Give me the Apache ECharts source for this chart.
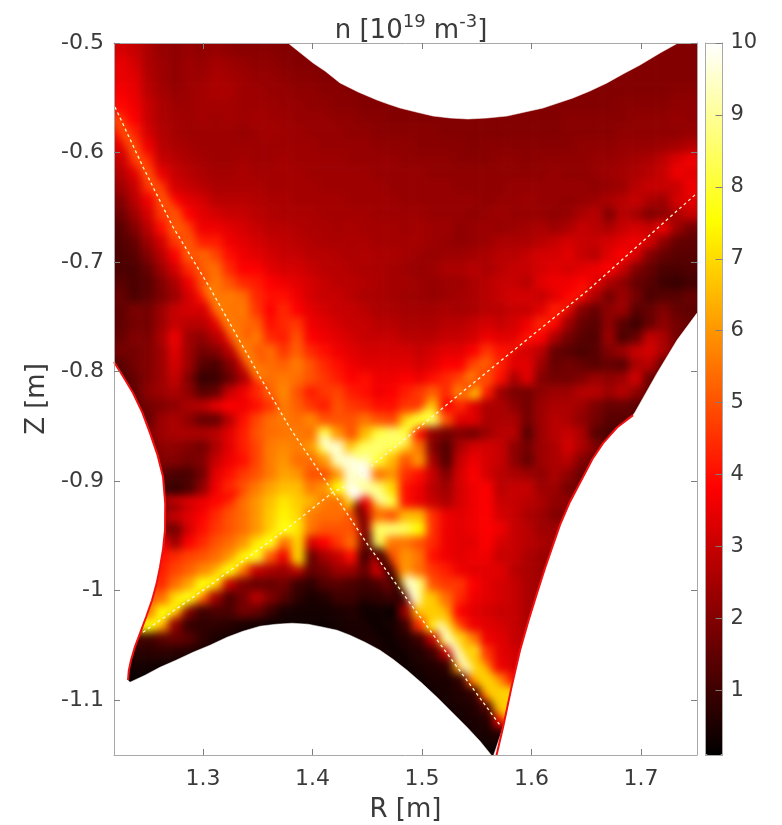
<!DOCTYPE html>
<html><head><meta charset="utf-8">
<style>
html,body{margin:0;padding:0;background:#fff;width:782px;height:825px;overflow:hidden}
#clip{position:absolute;left:114px;top:43px;width:583px;height:712px;overflow:hidden}
#heat{position:absolute;left:-114px;top:-43px;width:782px;height:825px;filter:blur(4.2px)}
#front{position:absolute;left:0;top:0;width:782px;height:825px}
</style>
<script src="https://cdn.jsdelivr.net/npm/echarts@6/dist/echarts.min.js"></script>
</head><body>
<div id="clip"><div id="heat"></div></div>
<div id="front"></div>
<script>
const rLimits=[1.2187,1.7511];
const zLimits=[-1.15,-0.5];
const rTicks=[1.3,1.4,1.5,1.6,1.7];
const zTicks=[-1.1,-1,-0.9,-0.8,-0.7,-0.6,-0.5];
const colorTicks=[1,2,3,4,5,6,7,8,9,10];
const colorLimits=[0.1,10];
const hotColors=['#000000','#550000','#aa0000','#ff0000','#ff5500','#ffaa00','#ffff00','#ffff80','#ffffff'];

const leftWall=[[1.2187,-0.7913],[1.2275,-0.8052],[1.2361,-0.8196],[1.2445,-0.8372],[1.2516,-0.8562],[1.2585,-0.8763],[1.2635,-0.8963],[1.2655,-0.9205],[1.2653,-0.9447],[1.2635,-0.9620],[1.2607,-0.9785],[1.2575,-0.9940],[1.2534,-1.0087],[1.2480,-1.0240],[1.2425,-1.0388],[1.2378,-1.0512],[1.2342,-1.0635],[1.2322,-1.0730],[1.2315,-1.0817]];
const rightWall=[[1.5676,-1.152],[1.5740,-1.1247],[1.5815,-1.0890],[1.5895,-1.0543],[1.5970,-1.0280],[1.6050,-1.0023],[1.6123,-0.9795],[1.6187,-0.9610],[1.6260,-0.9400],[1.6350,-0.9190],[1.6470,-0.8963],[1.6555,-0.8800],[1.6653,-0.8653],[1.6780,-0.8510],[1.6927,-0.8397]];
const rightEdge=[[1.6945,-0.8370],[1.7146,-0.8014],[1.7329,-0.7712],[1.7511,-0.7466]];
const bottomArc=[[1.2333,-1.0836],[1.247,-1.0772],[1.2607,-1.0699],[1.2753,-1.0635],[1.2909,-1.0562],[1.3064,-1.0498],[1.3219,-1.0425],[1.3365,-1.037],[1.3521,-1.0324],[1.3667,-1.0306],[1.3813,-1.0297],[1.3959,-1.0306],[1.4096,-1.0333],[1.4224,-1.0361],[1.4342,-1.0406],[1.4479,-1.047],[1.4616,-1.0543],[1.4735,-1.0626],[1.4863,-1.0726],[1.5,-1.0845],[1.5137,-1.0973],[1.5274,-1.111],[1.5411,-1.1247],[1.5530,-1.1374],[1.5648,-1.152]];
const topArc=[[1.3776,-0.5],[1.4005,-0.5183],[1.4114,-0.5256],[1.4251,-0.5365],[1.4416,-0.5447],[1.4589,-0.5521],[1.4689,-0.5557],[1.4799,-0.5594],[1.4945,-0.563],[1.5100,-0.5667],[1.5256,-0.5685],[1.5420,-0.5694],[1.5594,-0.5685],[1.5776,-0.5667],[1.5941,-0.563],[1.6105,-0.5594],[1.6242,-0.5548],[1.6379,-0.5502],[1.6534,-0.5438],[1.6689,-0.5365],[1.6836,-0.5283],[1.6991,-0.5201],[1.7174,-0.5091],[1.7338,-0.5]];
const separatrixA=[[1.2196,-0.5584],[1.2452,-0.6132],[1.2726,-0.668],[1.3064,-0.7237],[1.3521,-0.805],[1.3795,-0.8516],[1.4187,-0.91],[1.4434,-0.9475],[1.4507,-0.9584],[1.4890,-1.0114],[1.5712,-1.1228]];
const separatrixB=[[1.2452,-1.0379],[1.3064,-0.9950],[1.3749,-0.9447],[1.4187,-0.91],[1.4315,-0.9037],[1.4909,-0.8562],[1.5411,-0.8151],[1.6516,-0.7256],[1.7511,-0.637]];

const ridgeValues=[0.3,0.8,1.5,3.8,5,5.6,7.6,7,6.8,4.8,4.2,8.5,8,8.5,9.5,9.5,10,9,9.5];
const ridgeWidths=[12,10,8,6,10,15,9,9,18,8,6,14,12,10,12,9,20,12,12];
const ridgePaths=[
 [[1.4470,-1.0146],[1.5247,-1.1224]],
 [[1.4543,-0.9539],[1.4726,-0.9858],[1.4826,-1.0087]],
 [[1.4406,-0.9219],[1.4525,-0.9603]],
 [[1.2671,-0.9169],[1.3128,-0.9196],[1.3311,-0.9105]],
 [[1.2214,-0.5703],[1.2470,-0.6160],[1.2835,-0.6707],[1.3064,-0.7255]],
 [[1.3064,-0.7255],[1.3521,-0.8032]],
 [[1.2489,-1.0342],[1.3064,-0.9932],[1.3749,-0.9429]],
 [[1.3886,-0.9447],[1.3886,-0.9739]],
 [[1.5027,-1.0087],[1.5804,-1.1110]],
 [[1.5393,-0.8187],[1.5685,-0.7895]],
 [[1.5685,-0.7895],[1.6233,-0.7484],[1.6507,-0.7210]],
 [[1.4416,-0.8735],[1.4616,-0.8644],[1.4826,-0.8626]],
 [[1.4890,-0.8489],[1.5055,-0.8379]],
 [[1.4589,-0.9566],[1.4607,-0.9420],[1.4863,-0.9420]],
 [[1.4881,-0.9904],[1.4945,-1.0087]],
 [[1.5164,-1.0315],[1.5274,-1.0479],[1.5420,-1.0726]],
 [[1.4370,-0.8899],[1.4388,-0.9082]],
 [[1.4370,-0.8963],[1.4644,-0.9174]],
 [[1.4105,-0.8626],[1.4270,-0.8808],[1.4406,-0.8963]]
];

const row00=[3.2,3.0,2.6,2.3,2.2,2.3,2.2,2.3,2.2,2.1,2.1,2.1,2.0,2,2,2,2,2,2,2,2,2,2,2,2,2,2,2,2,2,2,2,2,2,2,2,2,2,2,2,2,2,2];
const row01=[3.5,3.2,2.6,2.4,2.2,2.4,2.3,2.5,2.4,2.3,2.2,2.2,2.1,2,2,2,2,2,2,2,2,2,2,2,2,2,2,2,2,2,2,2,2,2,2,2,2,2,2,2,2,2,2];
const row02=[3.5,3.4,2.7,2.4,2.2,2.4,2.4,2.6,2.5,2.4,2.3,2.3,2.2,2.1,2.1,2,2,2,2,2,2,2,2,2,2,2,2,2,2,2,2,2,2,2,2,2,2,2,2,2,2,2,2];
const row03=[3.7,3.5,2.8,2.5,2.3,2.4,2.5,2.6,2.6,2.4,2.4,2.3,2.3,2.2,2.2,2.1,2.1,2,2,2,2,2,2,2,2,2,2,2,2,2,2,2,2,2,2,2,2,2,2,2,2,2.1,2.1];
const row04=[3.9,3.6,3.0,2.6,2.4,2.4,2.5,2.5,2.5,2.4,2.4,2.4,2.3,2.3,2.2,2.2,2.1,2.1,2,2,2,2,2,2,2,2,2,2,2,2,2,2,2,2,2,2,2,2.1,2.1,2.1,2.1,2.2,2.2];
const row05=[4.2,3.8,3.0,2.6,2.5,2.4,2.5,2.4,2.5,2.4,2.5,2.4,2.4,2.3,2.3,2.3,2.2,2.2,2.1,2.1,2,2,2,2,2,2,2,2,2,2,2,2,2,2.1,2.1,2.1,2.1,2.1,2.2,2.2,2.2,2.3,2.2];
const row06=[3.8,4.2,3.2,2.7,2.5,2.4,2.4,2.4,2.4,2.3,2.4,2.5,2.4,2.4,2.3,2.3,2.3,2.2,2.2,2.1,2.1,2.1,2.1,2.1,2,2,2,2,2,2,2,2,2,2.1,2.1,2.1,2.1,2.2,2.2,2.2,2.2,2.2,2.3];
const row07=[3.4,4.5,3.6,2.8,2.6,2.5,2.4,2.4,2.4,2.4,2.4,2.4,2.4,2.4,2.4,2.3,2.3,2.3,2.3,2.2,2.2,2.2,2.1,2.1,2.1,2.1,2,2.1,2.1,2.1,2.1,2.1,2.1,2.1,2.2,2.2,2.2,2.3,2.3,2.3,2.4,2.5,2.7];
const row08=[3.0,4.2,4.2,3.0,2.8,2.6,2.5,2.4,2.4,2.5,2.4,2.4,2.5,2.4,2.4,2.4,2.4,2.3,2.3,2.3,2.3,2.2,2.2,2.2,2.2,2.1,2.1,2.1,2.2,2.2,2.1,2.2,2.2,2.2,2.2,2.3,2.3,2.4,2.5,2.6,2.9,3.3,3.6];
const row09=[2.7,3.4,4.6,3.5,3.0,2.8,2.6,2.5,2.5,2.6,2.5,2.5,2.5,2.5,2.4,2.4,2.4,2.4,2.4,2.3,2.3,2.3,2.3,2.2,2.2,2.2,2.2,2.2,2.2,2.2,2.2,2.2,2.3,2.2,2.2,2.3,2.4,2.5,2.6,2.8,3.0,3.6,3.4];
const row10=[2.4,3.0,4.4,4.2,3.2,3.0,2.8,2.6,2.6,2.6,2.6,2.5,2.5,2.5,2.5,2.4,2.4,2.4,2.4,2.4,2.3,2.3,2.3,2.3,2.3,2.2,2.2,2.2,2.2,2.3,2.3,2.3,2.3,2.3,2.3,2.2,2.3,2.4,2.8,3.0,3.0,3.0,3.6];
const row11=[2.0,2.8,3.6,4.8,3.8,3.4,3.2,2.8,2.8,2.8,2.7,2.6,2.6,2.5,2.5,2.5,2.5,2.4,2.4,2.4,2.4,2.3,2.3,2.3,2.3,2.3,2.3,2.2,2.3,2.3,2.4,2.3,2.3,2.2,2.3,2.4,2.6,2.8,3.0,2.6,2.4,3.2,3.4];
const row12=[1.7,2.4,3.2,4.6,5.0,3.8,3.4,3.2,3.0,3.0,2.8,2.7,2.6,2.6,2.6,2.5,2.5,2.5,2.5,2.4,2.4,2.4,2.4,2.3,2.3,2.3,2.2,2.3,2.4,2.3,2.3,2.3,2.2,2.3,2.6,2.8,2.0,2.8,2.5,2.0,2.2,2.6,3.0];
const row13=[1.4,2.0,2.8,4.0,5.2,4.4,3.6,3.6,3.4,3.2,3.0,2.8,2.8,2.7,2.6,2.6,2.5,2.6,2.5,2.5,2.5,2.4,2.5,2.4,2.4,2.2,2.3,2.4,2.3,2.4,2.5,2.6,2.4,2.6,3.0,2.8,2.6,3.0,3.2,3.0,3.6,2.4,1.8];
const row14=[1.3,1.6,2.4,3.2,4.6,5.4,4.2,4.2,3.6,3.4,3.2,3.0,2.9,2.8,2.7,2.6,2.6,2.6,2.6,2.5,2.5,2.5,2.5,2.4,2.3,2.2,2.3,2.4,2.6,2.6,2.6,2.8,3.0,3.2,3.0,3.0,3.2,3.4,3.6,3.2,2.2,1.6,1.5];
const row15=[1.2,1.4,2.0,2.8,3.8,5.2,5.4,4.8,4.0,3.6,3.4,3.2,3.0,3.0,2.8,2.8,2.7,2.6,2.7,2.6,2.6,2.5,2.4,2.3,2.4,2.4,2.5,2.6,2.8,2.8,3.0,3.2,3.2,3.4,3.0,2.8,3.4,3.8,3.2,2.0,1.6,1.4,1.4];
const row16=[1.2,1.2,1.6,2.4,3.2,4.4,5.6,5.4,4.4,3.8,3.8,3.4,3.2,3.2,3.0,2.8,2.8,2.7,2.6,2.6,2.5,2.4,2.3,2.4,2.6,2.6,2.8,2.6,2.8,3.0,3.0,3.2,3.4,3.2,3.4,3.6,3.8,3.0,2.0,1.6,1.2,1.2,1.3];
const row17=[1.4,1.2,1.4,2.0,2.6,3.6,4.8,5.6,5.0,4.4,4.2,3.8,3.6,3.4,3.2,3.0,2.8,2.8,2.7,2.6,2.5,2.5,2.4,2.3,2.4,2.4,2.6,2.8,3.0,3.0,2.8,3.4,3.6,3.6,3.8,3.4,2.6,2.2,1.6,1.4,1.0,0.9,1.1];
const row18=[1.6,1.2,1.5,1.9,2.4,3.2,4.0,5.0,5.6,5.4,4.4,4.0,4.0,3.6,3.2,3.0,3.0,2.8,2.6,2.6,2.5,2.4,2.4,2.3,2.4,2.5,2.6,2.8,3.0,3.2,3.2,3.0,3.4,3.8,3.4,2.6,1.8,2.4,1.8,1.2,1.4,1.4,1.6];
const row19=[1.5,1.9,1.8,2.4,3.0,3.2,3.2,4.2,5.4,5.6,4.6,3.8,4.4,3.8,3.4,3.2,3.0,3.0,2.8,2.6,2.6,2.5,2.5,2.5,2.6,2.5,2.6,2.8,2.8,3.0,3.0,3.4,4.2,3.2,2.0,1.6,2.2,2.4,1.4,1.6,2.0,1.6,1.5];
const row20=[1.5,1.8,1.8,2.4,3.0,2.8,2.8,3.4,4.4,5.4,5.2,4.0,4.4,4.6,3.6,3.4,3.2,3.0,3.0,2.8,2.8,2.6,2.6,2.6,2.8,2.8,3.0,3.2,3.0,3.2,3.6,4.4,3.8,2.4,1.6,1.4,2.2,1.4,1.0,1.6,2.2,1.8,1.6];
const row21=[1.6,2.0,1.9,2.6,3.6,2.4,2.2,2.8,3.4,4.6,5.6,4.4,4.2,5.0,3.8,3.6,3.4,3.2,3.0,3.0,3.0,2.8,2.8,2.8,3.0,3.0,3.2,3.6,3.4,3.4,3.8,3.8,2.6,1.8,1.4,1.3,2.4,1.2,1.6,3.0,2.6,1.8,1.6];
const row22=[1.8,1.8,2.0,2.4,3.4,2.4,1.8,2.0,2.8,3.6,5.0,5.4,4.6,5.2,4.4,4.0,3.6,3.4,3.2,3.2,3.2,3.2,3.0,3.2,3.4,3.4,3.8,4.6,4.0,3.2,3.2,2.8,1.6,1.4,1.2,1.4,2.0,2.4,3.0,3.2,2.6,1.8,1.6];
const row23=[1.4,1.8,2.0,2.4,3.2,2.4,1.4,1.2,2.0,3.0,4.0,5.4,5.2,5.6,5.0,4.4,4.0,3.6,3.4,3.4,3.4,3.4,3.2,3.4,3.8,3.8,4.8,5.4,4.2,3.4,3.4,2.4,1.6,1.8,1.6,1.4,1.6,1.4,2.6,2.8,1.6,1.6,1.6];
const row24=[1.2,1.6,2.0,2.4,3.0,2.0,0.9,1.0,1.6,2.6,3.8,5.4,5.6,5.4,5.0,4.6,4.2,3.8,4.0,3.6,3.6,3.8,3.6,4.0,4.4,4.8,6.0,5.0,4.0,2.6,3.4,2.0,1.8,1.8,2.0,2.4,2.2,2.4,3.2,1.6,1.6,1.6,1.6];
const row25=[1.2,1.5,2.2,2.4,2.6,2.2,1.4,1.6,3.0,3.6,4.4,5.2,5.8,5.0,4.2,4.6,4.8,4.2,4.0,3.6,3.8,4.2,4.6,5.2,4.4,5.8,7.0,4.2,2.4,1.9,1.8,2.2,2.4,2.4,2.8,2.8,2.4,2.8,2.2,1.6,1.6,1.6,1.6];
const row26=[1.2,1.4,1.8,2.0,2.2,2.6,2.8,3.4,3.8,3.6,4.0,4.6,5.6,5.2,4.6,4.2,5.0,4.6,4.4,4.0,4.0,4.6,4.6,6.5,3.8,4.4,3.4,2.6,2.6,2.2,1.8,2.4,2.6,2.6,2.4,1.9,1.6,1.6,1.4,1.6,1.6,1.6,1.6];
const row27=[1.6,1.6,1.6,2.4,2.6,2.2,1.6,1.6,2.8,4.0,4.8,5.4,5.6,5.4,5.8,5.0,5.0,5.0,5.5,5.0,4.8,6.5,7.5,8.5,5.0,3.4,3.4,2.6,2.6,2.6,1.8,2.4,2.8,2.6,2.2,1.8,1.4,1.4];
const row28=[1.6,1.6,2.0,2.4,2.6,2.6,2.6,2.8,3.4,4.2,5.0,5.4,5.5,5.6,5.4,8,6,5,6.5,8,8.5,8,4,2.2,1.8,2,1.8,2.4,2.8,2.8,1.4,2.4,2.8,3,2.6,1.4,1.2];
const row29=[1.6,1.6,1.6,2.2,2.2,2.0,1.8,2.6,3.4,4.2,4.8,5.6,5.8,5.6,6,8,9.5,6.5,7.5,9,8,6.5,5.5,2,1.3,2.6,3.2,3.2,3,2.2,1.8,2.4,2.6,3.2,2.6,2,1.4];
const row30=[1.6,1.6,1.6,2.0,2.0,1.8,2.0,3.0,3.6,4.0,4.8,5.6,6,5.4,5.4,6,9,10,9.5,8,6.5,5,6,2.5,1.3,3,3.6,3.2,3,2.2,1.6,2.4,2.6,2.8,2,1.6];
const row31=[1.4,1.4,1.4,1.4,1.2,1.2,1.8,3.4,4.0,4.6,5,5.6,6.2,6,5,5,6,10,10,5.5,6,4.5,4,3,2,3.2,3.8,3.2,2.8,2.6,2.4,2.2,2.6,2.2,1.6];
const row32=[1,1,1,1.0,0.9,1.2,2.2,3.6,4.4,5,5.6,6.2,6.6,6.6,5.6,6,7.5,9,10,8.5,7,4,3.6,2.8,2.4,3.2,3.6,3.8,2.8,3,3,2.4,2.4,1.8];
const row33=[1.4,1.4,1.4,1.6,1.6,2.6,3.2,4,4.6,5.4,6,6.6,7.2,6.8,6.4,5.6,5.4,7,3.6,6,8,4,3.5,3,2.6,3.2,3.6,3.8,3,3,2.8,2.6,2.2];
const row34=[2,2,2,2.4,3,3.4,3.8,4.4,5,5.4,6,6.8,7.4,7,5.6,5.4,5.4,5,3,5.5,5,6.5,6.5,4.5,3.6,3.4,3.6,3.8,3.2,3,2.6,2.4,2];
const row35=[2,2,2,2,1.8,3.2,4,4.6,5,5.4,6,6.8,8,7.4,5.5,5,5,5,3.4,8,9,8,7.5,4.5,3.6,3.4,3.6,3.8,3.6,3,2.8,2.4];
const row36=[3.6,3.6,3.6,3.6,2.4,3.8,4.4,5,5.4,6.0,7,8,5.4,6.5,3.2,3.8,4.6,5.4,2,8,5.5,5.5,5,4.4,3.6,3.4,3.4,3.8,3.2,3,2.8,2.6,2.4];
const row37=[4,4,4,4,4.4,4.8,5,5.4,6,7,8,5.2,3.6,6.5,1.6,2.5,3,4,1,3.8,5,6,5.5,4,3.6,3.4,3.6,3.6,3,3,2.6,2.4,2.2];
const row38=[4.4,4.4,4.4,4.2,4.8,5.2,5.8,6.2,7.6,5.4,3,2.6,2.4,2.8,1.6,1.8,2.4,2.4,1.6,3.2,4.6,6,5.4,4.6,4.2,3.6,3.4,3.4,3.4,2.8,2.6,2.4];
const row39=[4.6,4.6,4.6,4.4,5.4,6.2,7.6,6.2,3,1.9,1.6,1.6,1.8,1,0.8,1.3,1.4,1.2,1,1.2,2,6.5,8.5,5,4.6,4.6,3.8,3.4,3.2,3,2.6,2.4];
const row40=[5,5,5,5.4,7,8,5,2.4,1.2,1.8,2.8,2,1.4,0.8,0.5,0.6,1,1,0.8,0.8,1,3,8,6.5,5.4,4.4,3.6,3.4,3.2,3,2.6,2.4];
const row41=[6,6,5.5,7.4,5.4,2,1,1.2,1.2,1.8,1.6,1,0.5,0.4,0.4,0.4,0.5,0.6,0.6,0.4,0.2,2.4,6.5,7,6,3.8,3.4,3.2,3,3,2.6,2.4];
const row42=[7,7,7.4,6,2.2,0.9,0.8,0.8,0.7,0.5,0.4,0.3,0.3,0.3,0.3,0.3,0.4,0.5,0.5,0.4,0.4,1,4.5,7.5,7.5,4.6,3.6,3.4,3.2,3,2.6];
const row43=[1.2,1.2,1,1.4,1.6,1.4,0.8,0.5,0.4,0.3,0.3,0.3,0.3,0.3,0.3,0.3,0.3,0.4,0.5,0.5,0.5,0.6,1,3,8,8,5.6,3.6,3.4,3,2.8];
const row44=[0.7,0.7,0.7,0.8,0.7,0.6,0.5,0.4,0.3,0.3,0.3,0.3,0.3,0.3,0.3,0.3,0.3,0.3,0.3,0.4,0.5,0.5,0.6,1,3,9,8,4.6,3.4,3.2,3];
const row45=[0.4,0.4,0.4,0.3,0.3,0.3,0.3,0.3,0.3,0.3,0.3,0.3,0.3,0.3,0.3,0.3,0.3,0.3,0.3,0.3,0.4,0.5,0.5,0.6,0.8,6,8.5,5,3.6,3.2];
const row46=[0.2,0.2,0.2,0.2,0.2,0.2,0.2,0.2,0.2,0.2,0.2,0.2,0.2,0.2,0.2,0.2,0.2,0.2,0.2,0.2,0.2,0.3,0.4,0.5,0.5,0.8,5,7.5,5.5,4];
const row47=[0.2,0.2,0.2,0.2,0.2,0.2,0.2,0.2,0.2,0.2,0.2,0.2,0.2,0.2,0.2,0.2,0.2,0.2,0.2,0.2,0.2,0.2,0.3,0.4,0.5,0.6,0.8,4.6,7.5,7];
const row48=[0.2,0.2,0.2,0.2,0.2,0.2,0.2,0.2,0.2,0.2,0.2,0.2,0.2,0.2,0.2,0.2,0.2,0.2,0.2,0.2,0.2,0.2,0.2,0.3,0.4,0.5,0.6,1.2,6,7.5];
const row49=[0.2,0.2,0.2,0.2,0.2,0.2,0.2,0.2,0.2,0.2,0.2,0.2,0.2,0.2,0.2,0.2,0.2,0.2,0.2,0.2,0.2,0.2,0.2,0.2,0.3,0.4,0.5,0.6,3.6,4.5];
const row50=[0.2,0.2,0.2,0.2,0.2,0.2,0.2,0.2,0.2,0.2,0.2,0.2,0.2,0.2,0.2,0.2,0.2,0.2,0.2,0.2,0.2,0.2,0.2,0.2,0.2,0.3,0.4,0.5,0.6,0.8];
const row51=[0.2,0.2,0.2,0.2,0.2,0.2,0.2,0.2,0.2,0.2,0.2,0.2,0.2,0.2,0.2,0.2,0.2,0.2,0.2,0.2,0.2,0.2,0.2,0.2,0.2,0.2,0.3,0.3,0.3,0.3];
const densityRows=[row00,row01,row02,row03,row04,row05,row06,row07,row08,row09,row10,row11,row12,row13,row14,row15,row16,row17,row18,row19,row20,row21,row22,row23,row24,row25,row26,row27,row28,row29,row30,row31,row32,row33,row34,row35,row36,row37,row38,row39,row40,row41,row42,row43,row44,row45,row46,row47,row48,row49,row50,row51];

const nCols=43,nRows=densityRows.length;
const dR=(rLimits[1]-rLimits[0])/nCols,dZ=(zLimits[1]-zLimits[0])/nRows;
const cells=[];
densityRows.forEach((row,j)=>{
  for(let i=0;i<nCols;i++){
    const v=i<row.length?row[i]:row[row.length-1];
    cells.push([rLimits[0]+i*dR,zLimits[1]-j*dZ,v,i,j]);
  }
});
const ridgeData=ridgeValues.map((v,k)=>[ridgePaths[k][0][0],ridgePaths[k][0][1],v,k]);
const gridBox={left:114,top:43,width:583,height:712,outerBoundsMode:'none'};

const heatChart=echarts.init(document.getElementById('heat'),null,{renderer:'canvas'});
heatChart.setOption({
  animation:false,
  grid:gridBox,
  xAxis:{type:'value',min:rLimits[0],max:rLimits[1],show:false},
  yAxis:{type:'value',min:zLimits[0],max:zLimits[1],show:false},
  visualMap:{show:false,min:colorLimits[0],max:colorLimits[1],dimension:2,seriesIndex:[0,1],inRange:{color:hotColors}},
  series:[{type:'custom',clip:false,coordinateSystem:'cartesian2d',data:cells,z:2,
    encode:{x:0,y:1},
    renderItem(params,api){
      const i=api.value(3),j=api.value(4);
      const a=api.coord([api.value(0),api.value(1)]);
      const b=api.coord([api.value(0)+dR,api.value(1)-dZ]);
      const pad=14;
      const x0=a[0]-(i===0?pad:0),y0=a[1]-(j===0?pad:0);
      const x1=b[0]+(i===nCols-1?pad:0.6),y1=b[1]+(j===nRows-1?pad:0.6);
      return {type:'rect',shape:{x:x0,y:y0,width:x1-x0,height:y1-y0},style:{fill:api.visual('color')}};
    }},
    {type:'custom',clip:false,coordinateSystem:'cartesian2d',data:ridgeData,z:3,
    encode:{x:0,y:1},
    renderItem(params,api){
      const k=api.value(3);
      return {type:'polyline',shape:{points:ridgePaths[k].map(p=>api.coord(p))},
        style:{fill:null,stroke:api.visual('color'),lineWidth:ridgeWidths[k],lineCap:'round',lineJoin:'round'}};
    }}]
});

const axisGray='#a8a8a8',tickGray='#7f7f7f',textColor='#3a3a3a',fontFamily='"DejaVu Sans"',fs=22;
const maskBelow=-1.156;
const maskBottom=[[rLimits[0]-0.001,-0.7913]].concat(leftWall,bottomArc,rightWall.slice(1),rightEdge,[[rLimits[1]+0.001,-0.7466],[rLimits[1]+0.001,maskBelow],[rLimits[0]-0.001,maskBelow]]);
const masks=[topArc,maskBottom];
const frontChart=echarts.init(document.getElementById('front'),null,{renderer:'canvas'});
const dashLine={type:'line',xAxisIndex:0,yAxisIndex:0,showSymbol:false,silent:true,z:4,lineStyle:{color:'#fff6cf',width:1.3,type:[3,3]}};
const redLine={type:'line',xAxisIndex:0,yAxisIndex:0,showSymbol:false,silent:true,z:5,lineStyle:{color:'#f01010',width:2}};
const boxLine={show:true,onZero:false,lineStyle:{color:axisGray,width:1}};
frontChart.setOption({
  animation:false,
  backgroundColor:'transparent',
  textStyle:{fontFamily},
  title:{text:'{b|n [10}{s|19}{b| m}{s|-3}{b|]}',left:406,top:5,textAlign:'center',
    textStyle:{fontWeight:'normal',rich:{b:{fontSize:26,fontWeight:'normal',color:textColor,fontFamily,padding:[8,0,0,0]},s:{fontSize:18,fontWeight:'normal',color:textColor,fontFamily,padding:[0,0,9,0]}}}},
  grid:[gridBox,{left:705.5,top:43,width:17,height:712,outerBoundsMode:'none'}],
  xAxis:[
    {type:'value',gridIndex:0,position:'bottom',min:rLimits[0],max:rLimits[1],z:10,splitLine:{show:false},
     axisLine:boxLine,
     axisTick:{inside:true,length:6,lineStyle:{color:tickGray},customValues:rTicks},
     axisLabel:{fontSize:fs,color:textColor,margin:13,fontFamily,customValues:rTicks,formatter:v=>String(v)},
     name:'R [m]',nameLocation:'middle',nameGap:42,nameTextStyle:{fontSize:26,color:textColor,fontFamily}},
    {type:'value',gridIndex:0,position:'top',min:rLimits[0],max:rLimits[1],z:10,splitLine:{show:false},
     axisLine:boxLine,
     axisTick:{inside:true,length:6,lineStyle:{color:tickGray},customValues:rTicks},axisLabel:{show:false}},
    {type:'value',gridIndex:1,min:0,max:1,position:'bottom',z:10,splitLine:{show:false},axisLine:boxLine,axisTick:{show:false},axisLabel:{show:false}},
    {type:'value',gridIndex:1,min:0,max:1,position:'top',z:10,splitLine:{show:false},axisLine:boxLine,axisTick:{show:false},axisLabel:{show:false}}
  ],
  yAxis:[
    {type:'value',gridIndex:0,position:'left',min:zLimits[0],max:zLimits[1],z:10,splitLine:{show:false},
     axisLine:boxLine,
     axisTick:{inside:true,length:6,lineStyle:{color:tickGray},customValues:zTicks},
     axisLabel:{fontSize:fs,color:textColor,margin:10,padding:[6,0,0,0],fontFamily,customValues:zTicks,formatter:v=>String(v)},
     name:'Z [m]',nameLocation:'middle',nameGap:62,nameRotate:90,nameTextStyle:{fontSize:26,color:textColor,fontFamily}},
    {type:'value',gridIndex:0,position:'right',min:zLimits[0],max:zLimits[1],z:10,splitLine:{show:false},
     axisLine:boxLine,
     axisTick:{inside:true,length:6,lineStyle:{color:tickGray},customValues:zTicks},axisLabel:{show:false}},
    {type:'value',gridIndex:1,position:'right',min:colorLimits[0],max:colorLimits[1],z:10,splitLine:{show:false},
     axisLine:boxLine,
     axisTick:{inside:true,length:7,lineStyle:{color:tickGray},customValues:colorTicks},
     axisLabel:{fontSize:21,color:textColor,margin:8,padding:[7,0,0,0],fontFamily,customValues:colorTicks,formatter:v=>String(v)}},
    {type:'value',gridIndex:1,position:'left',min:colorLimits[0],max:colorLimits[1],z:10,splitLine:{show:false},
     axisLine:boxLine,axisTick:{show:false},axisLabel:{show:false}}
  ],
  visualMap:{type:'continuous',show:true,seriesIndex:0,dimension:2,min:colorLimits[0],max:colorLimits[1],calculable:false,text:null,showLabel:false,
    left:705.5,top:43,itemWidth:17,itemHeight:712,padding:0,borderWidth:0,inRange:{color:hotColors},textStyle:{fontSize:0,color:'transparent'}},
  series:[
    {type:'custom',xAxisIndex:2,yAxisIndex:2,data:[],renderItem(){return null;}},
    {type:'custom',xAxisIndex:0,yAxisIndex:0,coordinateSystem:'cartesian2d',clip:false,silent:true,z:3,data:[[0],[1]],
     encode:{x:0},
     renderItem(params,api){
       return {type:'polygon',shape:{points:masks[params.dataIndex].map(p=>api.coord(p))},style:{fill:'#ffffff',stroke:'#ffffff',lineWidth:0.5}};
     }},
    Object.assign({data:separatrixA},dashLine),
    Object.assign({data:separatrixB},dashLine),
    Object.assign({data:leftWall},redLine),
    Object.assign({data:rightWall},redLine)
  ]
});
</script>
</body></html>
